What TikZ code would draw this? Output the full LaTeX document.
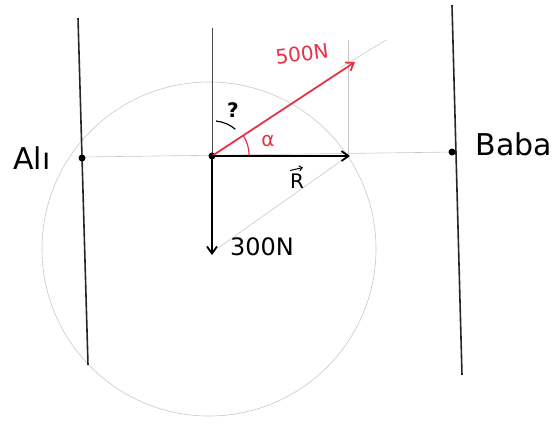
\documentclass[tikz,border=0pt]{standalone}
\usepackage{fontspec}
\setmainfont{DejaVu Sans}
\usetikzlibrary{arrows.meta}
\definecolor{penred}{RGB}{230,50,70}
\definecolor{guide}{RGB}{200,200,200}
\tikzset{
  guideline/.style={guide, line width=0.6pt},
  rope/.style={black!85, line width=1.6pt},
  force/.style={line width=1.8pt, -{Straight Barb[length=7pt,width=10pt]}},
  knot/.style={circle, fill=black, inner sep=0pt, minimum size=7pt},
  lab/.style={font=\fontsize{24}{24}\selectfont, inner sep=1pt},
  midlab/.style={font=\fontsize{20}{20}\selectfont, inner sep=1pt},
  biglab/.style={font=\fontsize{30}{30}\selectfont, inner sep=1pt}
}
\begin{document}
\begin{tikzpicture}[x=1pt,y=-1pt]
\useasboundingbox (0,0) rectangle (555,424);
% guide lines
\draw[guideline] (209,249) circle (167);
\coordinate (O) at (212,156);
\coordinate (Rend) at (350,156);
\coordinate (Ftop) at (355,62);
\draw[guideline] (82,157) -- (455,152);
\draw[guideline] (348,40) -- (348,156);
\draw[guideline] (348,156) -- (218,248);
\draw[guideline] (340,68) -- (386,40);
\draw[line width=0.8pt, black!70] (212,28) -- (O);
% ropes
\draw[rope] (78,18) -- (88,365);
\draw[rope] (452,5) -- (462,375);
\node[knot] (A) at (82,158) {};
\node[knot] (B) at (452,152) {};
\node[knot] (C) at (O) {};
% forces
\draw[force, penred] (O) -- (Ftop);
\draw[force, black] (O) -- (Rend);
\draw[force, black] (O) -- (212,255);
% angles
\draw[penred, line width=1.2pt] (243,135) arc[start angle=-33.4, end angle=0, radius=37];
\draw[black, line width=1.2pt] (216,121) arc[start angle=-84, end angle=-50, radius=36];
% labels
\node[midlab, penred, rotate=7] (l500) at (302,54) {500N};
\node[midlab, penred] (alpha) at (268,141) {α};
\node[midlab, font=\fontsize{20}{20}\selectfont\bfseries] (q) at (233,110) {?};
\node[midlab] (R) at (297,181) {R};
\draw[line width=1pt, -{Straight Barb[length=3pt,width=5pt]}] ([xshift=-7pt,yshift=2pt]R.north) -- ([xshift=6pt,yshift=5pt]R.north);
\node[lab] (l300) at (262,247) {300N};
\node[biglab] (Ali) at (32,158) {Alı};
\node[biglab] (Baba) at (514,144) {Baba};
\end{tikzpicture}
\end{document}
